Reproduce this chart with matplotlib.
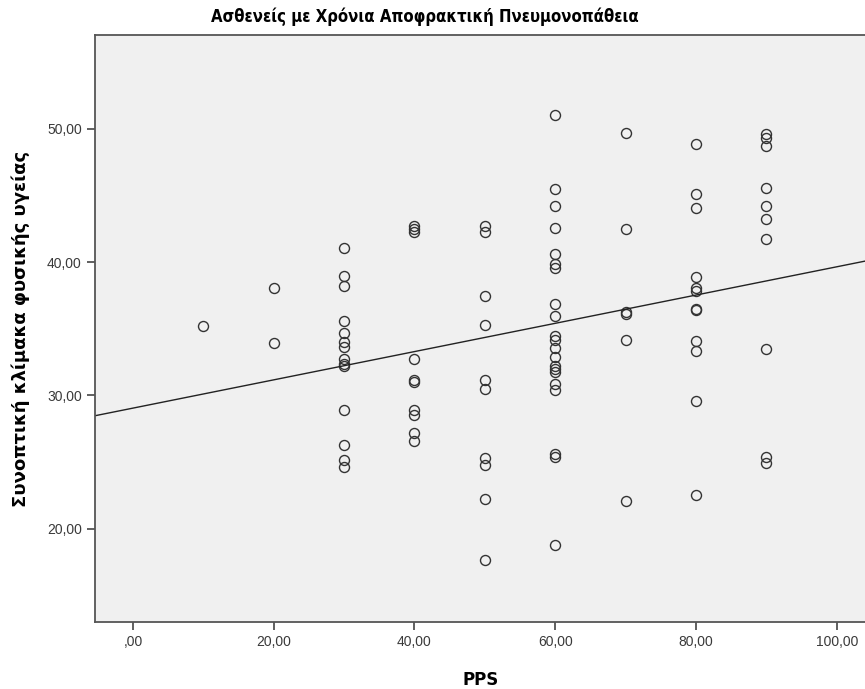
import matplotlib.pyplot as plt
import numpy as np
from matplotlib.ticker import FuncFormatter

# Physical health summary score per PPS level
pps_levels = [10, 20, 30, 40, 50, 60, 70, 80, 90]
score_10 = [35.2]
score_20 = [38.05, 33.95]
score_30 = [41.1, 39.0, 38.25, 35.6, 34.7, 34.0, 33.6, 32.7, 32.35, 32.2, 28.9, 26.25, 25.15, 24.6]
score_40 = [42.75, 42.5, 42.3, 32.7, 31.15, 31.0, 28.9, 28.5, 27.15, 26.6]
score_50 = [42.7, 42.3, 37.5, 35.3, 31.15, 30.5, 25.3, 24.75, 22.25, 17.65]
score_60 = [51.05, 45.5, 44.2, 42.6, 40.6, 39.85, 39.55, 36.9, 35.95, 34.45, 34.15, 33.55,
            32.85, 32.2, 31.95, 31.75, 30.85, 30.4, 25.6, 25.4, 18.8]
score_70 = [49.7, 42.5, 36.25, 36.15, 34.15, 22.05]
score_80 = [48.9, 45.1, 44.05, 38.9, 38.05, 37.85, 36.5, 36.4, 34.1, 33.3, 29.6, 22.55]
score_90 = [49.65, 49.3, 48.75, 45.55, 44.25, 43.25, 41.75, 33.45, 25.4, 24.9]

title = 'Ασθενείς με Χρόνια Αποφρακτική Πνευμονοπάθεια'
x_label = 'PPS'
y_label = 'Συνοπτική κλίμακα φυσικής υγείας'

groups = [score_10, score_20, score_30, score_40, score_50, score_60, score_70, score_80, score_90]
pps = np.concatenate([np.full(len(g), lvl, dtype=float) for lvl, g in zip(pps_levels, groups)])
score = np.concatenate([np.array(g, dtype=float) for g in groups])


def comma_fmt(v, pos):
    s = f'{v:.2f}'.replace('.', ',')
    return s[1:] if s.startswith('0,') else s


plt.rcParams['font.family'] = ['Liberation Sans', 'DejaVu Sans']

fig = plt.figure(figsize=(8.65, 6.89), dpi=100)
ax = fig.add_axes([95 / 865, 67 / 689, 772 / 865, 587 / 689])
ax.set_facecolor('#f0f0f0')

ax.plot(pps, score, linestyle='none', marker='o', markersize=7.2,
        markerfacecolor='none', markeredgecolor='#333333', markeredgewidth=1.0)

# least squares fit line across the full x range
slope, intercept = np.polyfit(pps, score, 1)
xlim = (-5.4, 104.3)
xs = np.array(xlim)
ax.plot(xs, intercept + slope * xs, color='#222222', linewidth=1.0)

ax.set_xlim(*xlim)
ax.set_ylim(13.0, 57.05)
ax.set_xticks([0, 20, 40, 60, 80, 100])
ax.set_yticks([20, 30, 40, 50])
ax.xaxis.set_major_formatter(FuncFormatter(comma_fmt))
ax.yaxis.set_major_formatter(FuncFormatter(comma_fmt))
ax.tick_params(direction='out', length=6, width=1.2, color='#444444',
               labelsize=10, labelcolor='#3a3a3a')

for side in ['left', 'bottom', 'top']:
    ax.spines[side].set_color('#555555')
    ax.spines[side].set_linewidth(1.3)
ax.spines['right'].set_visible(False)

ax.set_xlabel(x_label, fontsize=12, fontweight='bold', labelpad=16,
              family=['DejaVu Sans'])
ax.set_ylabel(y_label, fontsize=13, fontweight='bold', labelpad=12,
              family=['DejaVu Sans'])

fig.text(425 / 865, 1 - 17 / 689, title, ha='center', va='center',
         fontsize=12, fontweight='bold', family=['DejaVu Sans'],
         fontstretch='condensed')

fig.savefig('out.png', dpi=100, facecolor='white')
